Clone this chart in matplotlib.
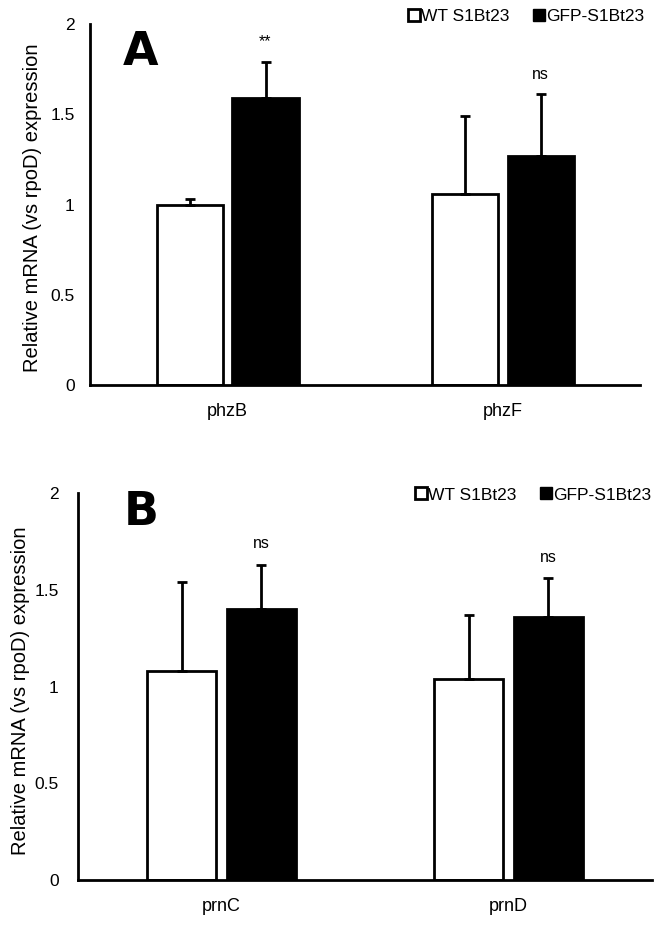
import matplotlib
matplotlib.use("Agg")
import matplotlib.pyplot as plt
from matplotlib.lines import Line2D
import numpy as np

plt.rcParams['font.family'] = ['Liberation Sans', 'DejaVu Sans']

# panel A
genes_a = ["phzB", "phzF"]
wt_a = [1.00, 1.06]
wt_a_err = [0.03, 0.43]
gfp_a = [1.59, 1.27]
gfp_a_err = [0.20, 0.34]
sig_a = ["**", "ns"]

# panel B
genes_b = ["prnC", "prnD"]
wt_b = [1.08, 1.04]
wt_b_err = [0.46, 0.33]
gfp_b = [1.40, 1.36]
gfp_b_err = [0.23, 0.20]
sig_b = ["ns", "ns"]

series_names = ["WT S1Bt23", "GFP-S1Bt23"]
yticks = [0, 0.5, 1, 1.5, 2]
ytick_labels = ["0", "0.5", "1", "1.5", "2"]

BAR_W = 0.24
GAP = 0.036


def draw_panel(ax, genes, wt, wt_err, gfp, gfp_err, sig, letter, letter_pos,
               legend_anchor, ylabel_x, ytick_pad):
    x = np.arange(len(genes))
    off = (BAR_W + GAP) / 2
    ekw = dict(ecolor='black', elinewidth=2, capsize=3.5, capthick=2)
    ax.bar(x - off, wt, BAR_W, yerr=[np.zeros(len(wt)), wt_err],
           color='white', edgecolor='black', linewidth=2, error_kw=ekw)
    ax.bar(x + off, gfp, BAR_W, yerr=[np.zeros(len(gfp)), gfp_err],
           color='black', edgecolor='black', linewidth=2, error_kw=ekw)
    for xi, v, e, s in zip(x, gfp, gfp_err, sig):
        ax.text(xi + off, v + e + 0.07, s, ha='center', va='bottom', fontsize=11.5)

    ax.set_xlim(-0.5, len(genes) - 0.5)
    ax.set_ylim(0, 2)
    ax.set_yticks(yticks)
    ax.set_yticklabels(ytick_labels, fontsize=12.5)
    ax.set_xticks(x)
    ax.set_xticklabels(genes, fontsize=13)
    ax.tick_params(axis='y', length=0, pad=ytick_pad)
    ax.tick_params(axis='x', length=0, pad=13)
    for side in ['top', 'right']:
        ax.spines[side].set_visible(False)
    for side in ['left', 'bottom']:
        ax.spines[side].set_linewidth(2)
    ax.set_ylabel("Relative mRNA (vs rpoD) expression", fontsize=14.5)
    ax.yaxis.set_label_coords(ylabel_x, 0.49)

    ax.text(letter_pos[0], letter_pos[1], letter, transform=ax.transAxes, fontsize=33,
            fontweight='heavy', family='DejaVu Sans', ha='left', va='center')

    handles = [
        Line2D([], [], marker='s', linestyle='none', markersize=8,
               markerfacecolor='white', markeredgecolor='black', markeredgewidth=2),
        Line2D([], [], marker='s', linestyle='none', markersize=8,
               markerfacecolor='black', markeredgecolor='black'),
    ]
    ax.legend(handles, series_names, loc='center right', ncol=2, frameon=False,
              fontsize=12.5, handletextpad=0.0, columnspacing=1.3,
              borderaxespad=0, bbox_to_anchor=legend_anchor, handlelength=0.8)


fig = plt.figure(figsize=(6.69, 9.5), dpi=100)
ax_a = fig.add_axes([0.1345, 0.5947, 0.8225, 0.38])
ax_b = fig.add_axes([0.1166, 0.0737, 0.858, 0.4073])

draw_panel(ax_a, genes_a, wt_a, wt_a_err, gfp_a, gfp_a_err, sig_a, "A", (0.06, 0.92),
           (1.02, 1.02), -0.087, 11)
draw_panel(ax_b, genes_b, wt_b, wt_b_err, gfp_b, gfp_b_err, sig_b, "B", (0.08, 0.95),
           (1.01, 0.995), -0.084, 14)

fig.savefig("out.png", dpi=100)
